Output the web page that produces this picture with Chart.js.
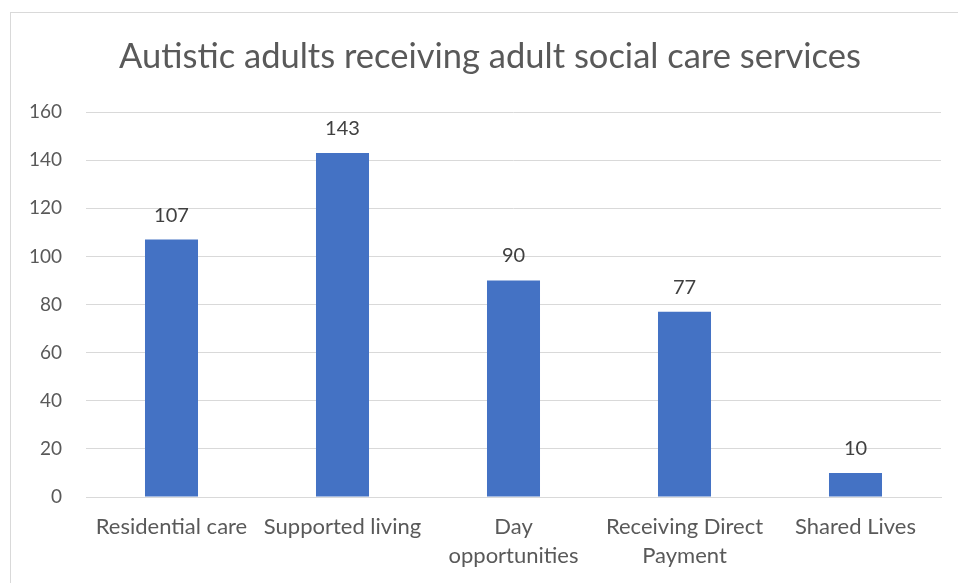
<!DOCTYPE html>
<html>
<head>
<meta charset="utf-8">
<title>Autistic adults receiving adult social care services</title>
<script src="https://cdn.jsdelivr.net/npm/chart.js@4"></script>
<style>
  html, body { margin: 0; padding: 0; background: #fff; overflow: hidden; }
  #frame {
    position: absolute; left: 10px; top: 12px; width: 1000px; height: 700px;
    border: 1px solid #d9d9d9; box-sizing: border-box;
  }
  #wrap { position: absolute; left: 0; top: 0; width: 958px; height: 583px; }
</style>
</head>
<body>
<div id="frame"></div>
<div id="wrap"><canvas id="chart"></canvas></div>
<script>
// Chart data
const TITLE = 'Autistic adults receiving adult social care services';
const CATEGORIES = [
  'Residential care',
  'Supported living',
  ['Day', 'opportunities'],
  ['Receiving Direct', 'Payment'],
  'Shared Lives',
];
const COUNTS = [107, 143, 90, 77, 10];
const Y_MAX = 160;
const Y_STEP = 20;

const FONT = 'Lato, Carlito, Calibri, "Open Sans", sans-serif';
const TEXT_GREY = '#595959';

// Title centred over the whole chart frame (not just the plot area)
const frameTitle = {
  id: 'frameTitle',
  afterDraw(chart) {
    const ctx = chart.ctx;
    ctx.save();
    ctx.font = '34.5px ' + FONT;
    ctx.fillStyle = TEXT_GREY;
    ctx.textAlign = 'center';
    ctx.textBaseline = 'middle';
    ctx.fillText(TITLE, 490, 57);
    ctx.restore();
  },
};

// Draws the value above each bar
const valueLabels = {
  id: 'valueLabels',
  afterDatasetsDraw(chart) {
    const ctx = chart.ctx;
    const meta = chart.getDatasetMeta(0);
    ctx.save();
    ctx.font = '20px ' + FONT;
    ctx.fillStyle = '#404040';
    ctx.textAlign = 'center';
    ctx.textBaseline = 'alphabetic';
    meta.data.forEach((bar, i) => {
      ctx.fillText(String(COUNTS[i]), bar.x, bar.y - 18);
    });
    ctx.restore();
  },
};

new Chart(document.getElementById('chart'), {
  type: 'bar',
  data: {
    labels: CATEGORIES,
    datasets: [{
      data: COUNTS,
      backgroundColor: '#4472C4',
      categoryPercentage: 1,
      barPercentage: 0.31,
    }],
  },
  options: {
    responsive: true,
    maintainAspectRatio: false,
    animation: false,
    layout: { padding: { left: 0, right: 17, top: 112, bottom: 0 } },
    plugins: {
      legend: { display: false },
      tooltip: { enabled: false },
      title: { display: false },
    },
    scales: {
      x: {
        grid: { display: false, drawTicks: false },
        border: { color: '#d9d9d9' },
        ticks: {
          color: TEXT_GREY,
          font: { family: FONT, size: 22, lineHeight: 1.32 },
          padding: 15,
          maxRotation: 0,
          autoSkip: false,
        },
        afterFit: s => { s.height = 86; },
      },
      y: {
        min: 0,
        max: Y_MAX,
        grid: { color: '#d9d9d9', drawTicks: false },
        border: { display: false },
        ticks: {
          stepSize: Y_STEP,
          color: TEXT_GREY,
          font: { family: FONT, size: 19 },
          padding: 24,
        },
        afterFit: s => { s.width = 86; },
      },
    },
  },
  plugins: [valueLabels, frameTitle],
});
</script>
</body>
</html>
